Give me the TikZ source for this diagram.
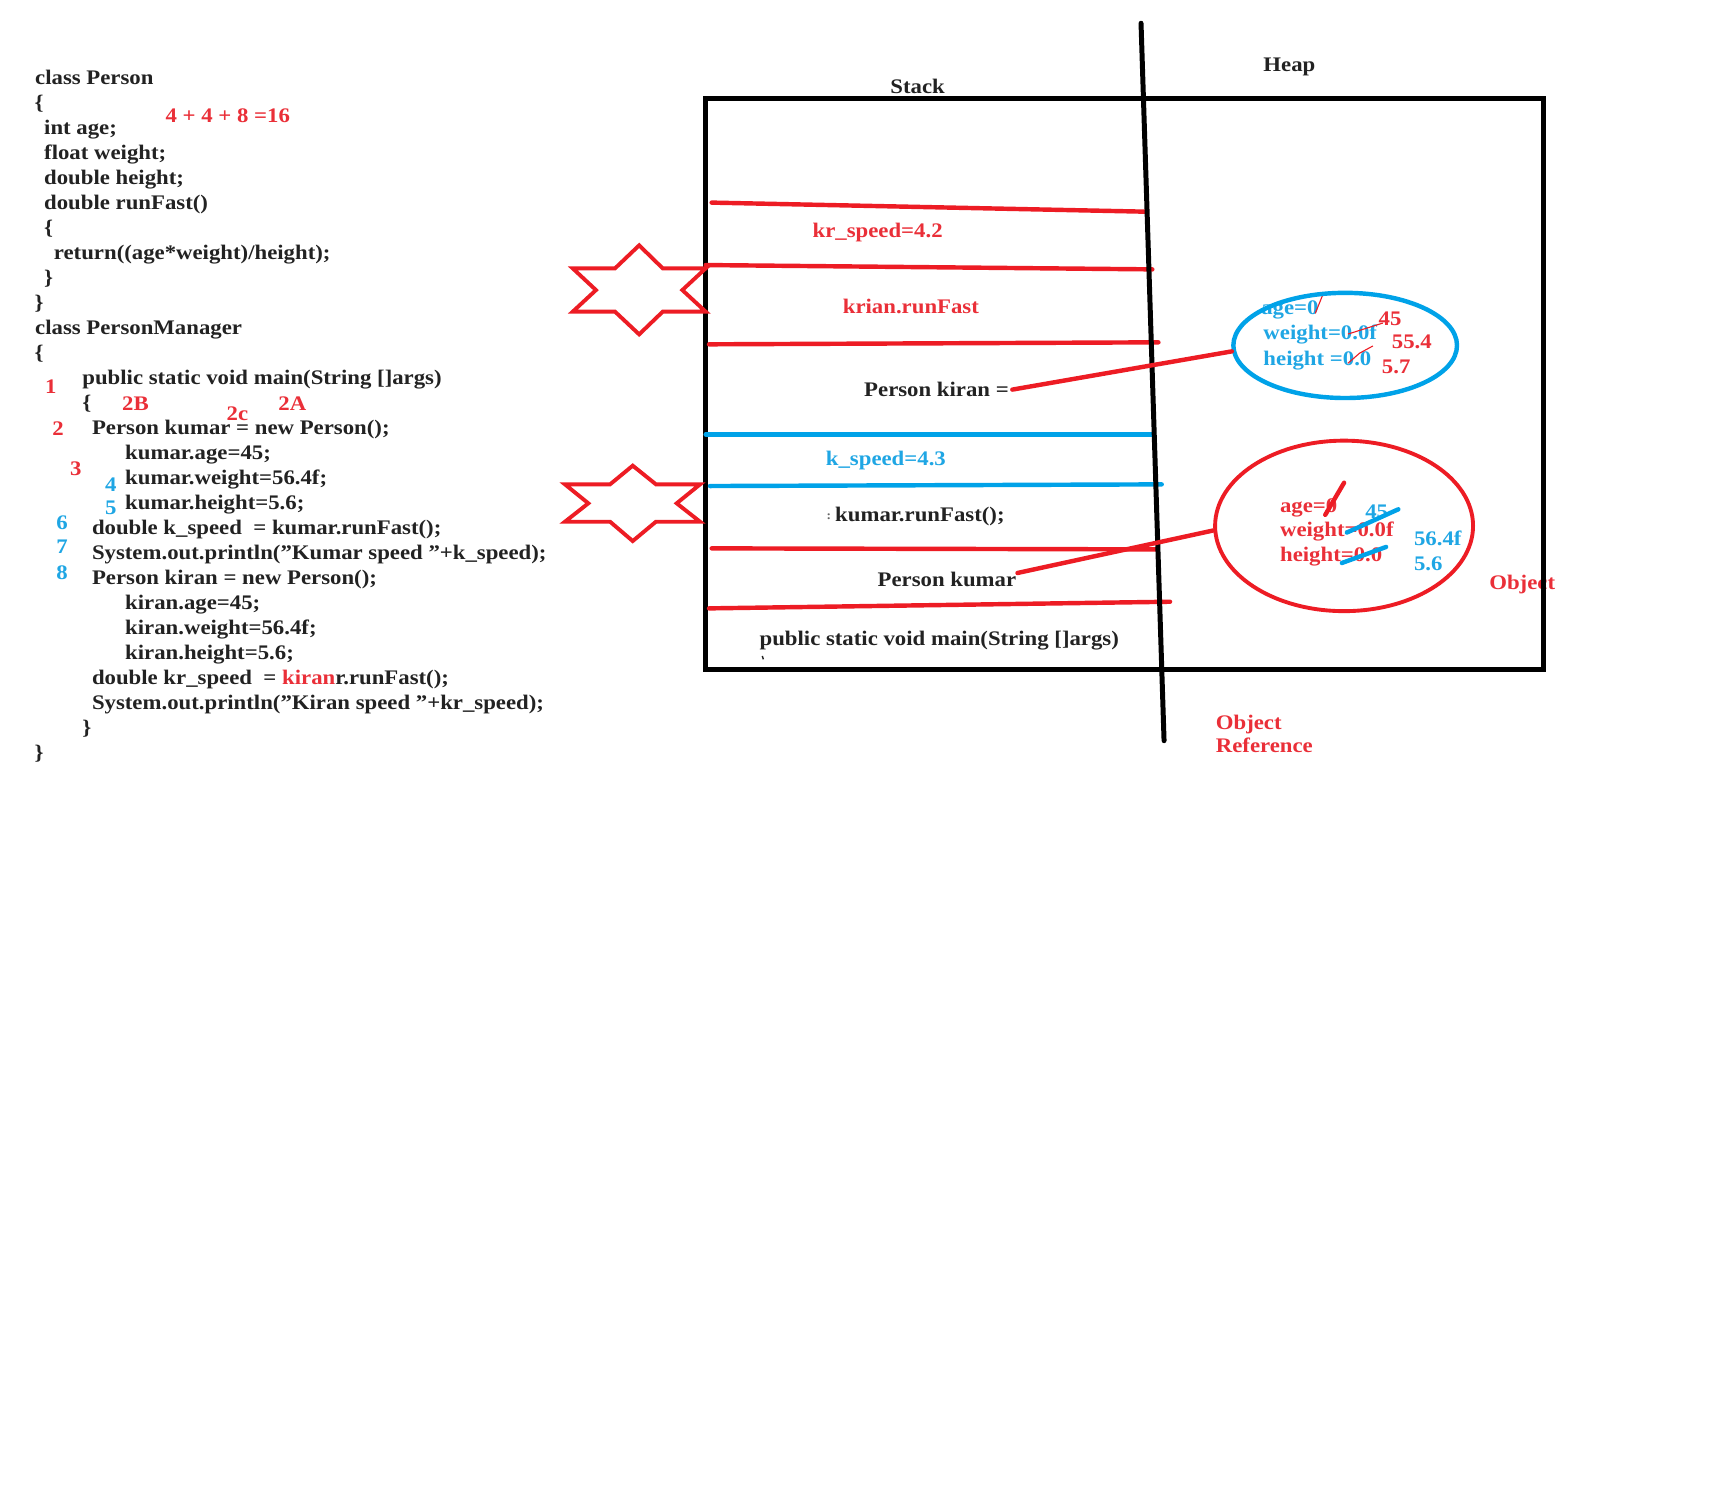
\documentclass[tikz,border=0pt]{standalone}
\usepackage{fontspec}
\setmainfont{Liberation Serif}[FakeStretch=1.10]
\usetikzlibrary{shapes.geometric}
\definecolor{ink}{HTML}{222222}
\definecolor{pred}{HTML}{ED1C24}
\definecolor{tred}{HTML}{EA2F38}
\definecolor{pblue}{HTML}{00A2E8}
\definecolor{tblue}{HTML}{1FA6E4}
\newcommand{\dq}{\symbol{34}}
\tikzset{
  txt/.style={anchor=base west, inner sep=0pt, font=\fontsize{18.7}{22}\selectfont\bfseries, text=ink},
  rtxt/.style={txt, text=tred},
  btxt/.style={txt, text=tblue},
  num/.style={anchor=center, inner sep=0pt, font=\fontsize{18.7}{22}\selectfont\bfseries},
  redln/.style={draw=pred, line width=4pt, line cap=round},
  blueln/.style={draw=pblue, line width=4pt, line cap=round},
  blackln/.style={draw=black, line width=4.5pt},
  starln/.style={draw=pred, line width=3.5pt, line join=miter},
  thinred/.style={draw=pred, line width=1pt},
}
\begin{document}
\begin{tikzpicture}[x=1pt, y=-1pt]
\useasboundingbox[fill=white] (0,0) rectangle (1568,1362);

% ---------------- code on the left ----------------
\node[txt] (c0)  at (31.6, 75.9)  {class Person};
\node[txt] (c1)  at (31.0, 98.5)  {\{};
\node[txt] (c2)  at (39.7, 121.1) {int age;};
\node[txt] (c3)  at (39.7, 143.7) {float weight;};
\node[txt] (c4)  at (39.7, 166.3) {double height;};
\node[txt] (c5)  at (39.7, 188.9) {double runFast()};
\node[txt] (c6)  at (39.7, 211.4) {\{};
\node[txt] (c7)  at (48.5, 234.0) {return((age*weight)/height);};
\node[txt] (c8)  at (39.7, 256.6) {\}};
\node[txt] (c9)  at (31.0, 279.2) {\}};
\node[txt] (c10) at (31.6, 301.8) {class PersonManager};
\node[txt] (c11) at (31.0, 324.4) {\{};
\node[txt] (c12) at (74.2, 347.0) {public static void main(String []args)};
\node[txt] (c13) at (74.2, 369.6) {\{};
\node[txt] (c14) at (82.9, 392.2) {Person kumar = new Person();};
\node[txt] (c15) at (112.9, 414.8) {kumar.age=45;};
\node[txt] (c16) at (112.9, 437.3) {kumar.weight=56.4f;};
\node[txt] (c17) at (112.9, 459.9) {kumar.height=5.6;};
\node[txt] (c18) at (82.9, 482.5) {double k\_speed\ \ = kumar.runFast();};
\node[txt] (c19) at (82.9, 505.1) {System.out.println(\dq Kumar speed \dq+k\_speed);};
\node[txt] (c20) at (82.9, 527.7) {Person kiran = new Person();};
\node[txt] (c21) at (112.9, 550.3) {kiran.age=45;};
\node[txt] (c22) at (112.9, 572.9) {kiran.weight=56.4f;};
\node[txt] (c23) at (112.9, 595.5) {kiran.height=5.6;};
\node[txt] (c24) at (82.9, 618.1) {double kr\_speed\ \ = {\color{tred}kiran}r.runFast();};
\node[txt] (c25) at (82.9, 640.7) {System.out.println(\dq Kiran speed \dq+kr\_speed);};
\node[txt] (c26) at (74.2, 663.2) {\}};
\node[txt] (c27) at (31.0, 685.8) {\}};

% annotations
\node[rtxt] (sum) at (149.4, 110.8) {4 + 4 + 8 =16};
\node[num, text=tred]  (n1)  at (46.0, 349.3) {1};
\node[num, text=tred]  (n2b) at (122.3, 364.3) {2B};
\node[num, text=tred]  (n2c) at (214.5, 373.3) {2c};
\node[num, text=tred]  (n2a) at (264.0, 364.3) {2A};
\node[num, text=tred]  (n2)  at (52.4, 386.9) {2};
\node[num, text=tred]  (n3)  at (68.5, 423.0) {3};
\node[num, text=tblue] (n4)  at (100.2, 438.0) {4};
\node[num, text=tblue] (n5)  at (100.2, 459.0) {5};
\node[num, text=tblue] (n6)  at (56.0, 472.0) {6};
\node[num, text=tblue] (n7)  at (56.0, 494.0) {7};
\node[num, text=tblue] (n8)  at (56.0, 517.0) {8};

% ---------------- stack / heap ----------------
\node[txt] (stack) at (804.0, 84.9) {Stack};
\node[txt] (heap)  at (1141.0, 65.0) {Heap};
\node[rtxt] (objlbl) at (1345.0, 532.0) {Object};
\node[rtxt] (oref1) at (1098.0, 658.5) {Object};
\node[rtxt] (oref2) at (1098.0, 680.0) {Reference};

% stack frame texts
\node[rtxt] (krs)   at (733.8, 214.4) {kr\_speed=4.2};
\node[rtxt] (krf)   at (761.1, 283.0) {krian.runFast};
\node[txt]  (pkir)  at (780.4, 358.3) {Person kiran =};
\node[btxt] (ks)    at (745.8, 420.0) {k\_speed=4.3};
\node[txt, font=\fontsize{11}{12}\selectfont\bfseries, text=ink!70] (colon) at (746.5, 469.5) {:};
\node[txt]  (kuf)   at (754.2, 471.2) {kumar.runFast();};
\node[txt]  (pkum)  at (792.5, 529.9) {Person kumar};
\node[txt]  (pmain) at (685.9, 582.6) {public static void main(String []args)};
\draw[ink, line width=1.3pt] (688.5,592.5) -- (689.5,595.5);

% heap objects: texts
\node[btxt] (o1a) at (1139.0, 284.5) {age=0};
\node[btxt] (o1w) at (1141.0, 307.0) {weight=0.0f};
\node[btxt] (o1h) at (1141.0, 329.7) {height =0.0};
\node[rtxt] (o1a2) at (1245.0, 293.6) {45};
\node[rtxt] (o1w2) at (1257.0, 315.0) {55.4};
\node[rtxt] (o1h2) at (1248.0, 337.8) {5.7};

\node[rtxt] (o2a) at (1156.0, 463.0) {age=0};
\node[rtxt] (o2w) at (1156.0, 484.8) {weight=0.0f};
\node[rtxt] (o2h) at (1156.0, 507.3) {height=0.0};
\node[btxt] (o2a2) at (1233.0, 468.0) {45};
\node[btxt] (o2w2) at (1277.0, 493.0) {56.4f};
\node[btxt] (o2h2) at (1277.0, 515.0) {5.6};

% strike marks
\draw[thinred] (1188,283) -- (1195,265.6) -- (1199.5,264.7);
\draw[thinred] (1217.6,301.7) -- (1249,291.8);
\draw[thinred] (1217.6,328) -- (1228,319) -- (1240,312.5);
\draw[redln] (1197,465) -- (1214,436);
\draw[blueln] (1216.5,481) -- (1263,460);
\draw[blueln] (1212,508.5) -- (1252,494);

% heap object ellipses
\node[ellipse, draw=pblue, line width=4pt, minimum width=202pt, minimum height=95pt, inner sep=0pt] (obj1) at (1215, 312) {};
\node[ellipse, draw=pred, line width=3.5pt, minimum width=233pt, minimum height=154pt, inner sep=0pt] (obj2) at (1214, 475) {};

% outer box
\draw[blackln] (637.4,88.8) rectangle (1394,604.6);

% stack dividers
\draw[redln] (642.8,183.0) -- (1034.8,191.2);
\draw[redln] (637.4,239.4) -- (1040.8,243.3);
\draw[redln] (640.4,311.0) -- (1046.3,309.2);
\draw[blueln] (637.4,392.3) -- (1040.8,392.3);
\draw[blueln] (641.3,439.0) -- (1049.3,437.5);
\draw[redln] (642.8,495.3) -- (1045.3,496.2);
\draw[redln] (640.4,549.5) -- (1056.8,543.5);

% stack / heap separator
\draw[draw=black, line width=4.5pt, line cap=round] (1030.6,21) -- (1051.4,669);

% references
\draw[redln] (pkir.east) ++(3,0) -- (obj1.183);
\draw[redln] (pkum.east) ++(1,-6) -- (obj2.182);

% stars
\draw[starln] (577.3,221.6) -- (598.6,242.4) -- (637.4,242.4) -- (616.3,262) -- (637.4,281.5) -- (598.6,281.5) -- (577.3,302) -- (555.5,281.5) -- (517.3,281.5) -- (538.3,262) -- (517.3,242.4) -- (555.5,242.4) -- cycle;
\draw[starln] (571.5,420.6) -- (592.5,437.5) -- (632.3,437.5) -- (611.2,454.6) -- (632.3,471.2) -- (592.5,471.2) -- (571.5,488.7) -- (551,471.2) -- (510.3,471.2) -- (531.4,454.6) -- (510.3,437.5) -- (551,437.5) -- cycle;
\end{tikzpicture}
\end{document}
